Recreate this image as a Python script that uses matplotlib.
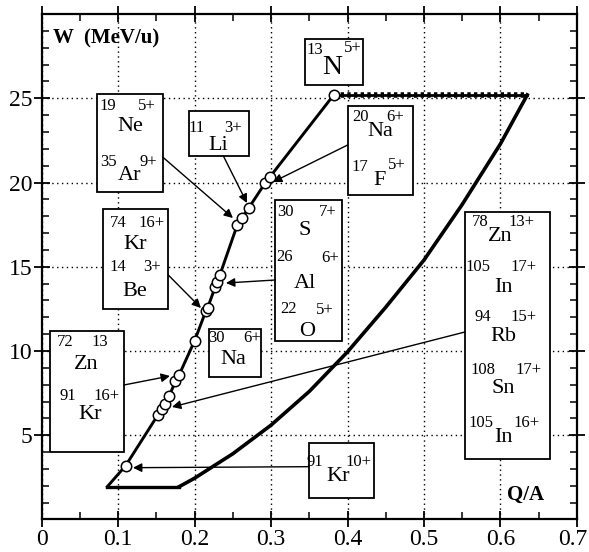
import matplotlib
matplotlib.use("Agg")
import matplotlib.pyplot as plt
from matplotlib.patches import Rectangle
from matplotlib.ticker import MultipleLocator
from matplotlib.transforms import ScaledTranslation

plt.rcParams['font.family'] = ['Liberation Serif', 'DejaVu Serif']

# ---------------- data ----------------
circle_qa = [0.110, 0.152, 0.158, 0.161, 0.167, 0.175, 0.180, 0.200, 0.215, 0.217,
             0.227, 0.229, 0.233, 0.256, 0.262, 0.271, 0.292, 0.298, 0.382]
circle_w = [3.2, 6.2, 6.55, 6.85, 7.35, 8.2, 8.6, 10.6, 12.4, 12.55,
            13.8, 14.1, 14.5, 17.5, 17.9, 18.5, 19.95, 20.3, 25.2]

start_qa = [0.086]
start_w = [1.95]

bottom_qa = [0.086, 0.18]
bottom_w = [1.95, 1.95]

edge_qa = [0.18, 0.19, 0.20, 0.25, 0.30, 0.35, 0.40, 0.45, 0.50, 0.55, 0.60, 0.635]
edge_w = [1.95, 2.2, 2.45, 3.9, 5.6, 7.6, 9.95, 12.6, 15.4, 18.7, 22.3, 25.2]

top_qa = [0.382, 0.635]
top_w = [25.2, 25.2]

x_ticks = [0, 0.1, 0.2, 0.3, 0.4, 0.5, 0.6, 0.7]
x_tick_labels = ['0', '0.1', '0.2', '0.3', '0.4', '0.5', '0.6', '0.7']
y_ticks = [5, 10, 15, 20, 25]
y_tick_labels = ['5', '10', '15', '20', '25']

# ---------------- figure ----------------
fig = plt.figure(figsize=(5.89, 5.52), dpi=100)
ax = fig.add_axes([0.0706, 0.0589, 0.9090, 0.9157])
ax.set_xlim(0, 0.7)
ax.set_ylim(0, 30)


def R(px, py):
    """reference-picture pixel -> data coordinates (for annotation placement)"""
    return ((px - 41.6) / 765.0, (519.5 - py) / 16.85)


ax.set_xticks(x_ticks)
ax.set_xticklabels(x_tick_labels)
ax.set_yticks(y_ticks)
ax.set_yticklabels(y_tick_labels)
ax.xaxis.set_minor_locator(MultipleLocator(0.05))
ax.yaxis.set_minor_locator(MultipleLocator(1))
ax.tick_params(which='major', direction='inout', length=11, width=1.3,
               top=True, right=True, labelsize=17, pad=1)
ax.tick_params(which='minor', direction='in', length=5, width=1.1,
               top=True, right=True)
# last x label sits against the right edge in the reference
last = ax.get_xticklabels()[-1]
last.set_transform(last.get_transform() + ScaledTranslation(-4 / 100, 0, fig.dpi_scale_trans))

for s in ax.spines.values():
    s.set_linewidth(1.6)
ax.grid(True, which='major', linestyle=(0, (1, 2.5)), color='black', lw=1.0, zorder=0)
ax.set_axisbelow(True)

# acceptance contour
ax.plot(start_qa + circle_qa, start_w + circle_w, color='black', lw=2.1, zorder=4,
        solid_joinstyle='round')
ax.plot(bottom_qa, bottom_w, color='black', lw=2.4, zorder=4)
ax.plot(edge_qa, edge_w, color='black', lw=2.6, zorder=4, solid_joinstyle='round')
ax.plot(top_qa, top_w, color='black', lw=2.0, zorder=4)
ax.plot(top_qa, top_w, color='black', lw=4.0, linestyle=(0, (0.6, 0.6)), zorder=4)

# circles
ax.plot(circle_qa, circle_w, linestyle='none', marker='o', ms=7.5,
        mfc='white', mec='black', mew=1.1, zorder=6)

# ---------------- labels in boxes ----------------
S_NUM = 12
S_EL = 16
boxes = [
    ((305, 39, 362.7, 85), [("13", 315, 50, S_NUM), ("5+", 353, 48, S_NUM), ("N", 332.7, 67, 20)]),
    ((97.3, 94, 162.7, 192.3), [("19", 108.3, 106, S_NUM), ("5+", 146.7, 106, S_NUM), ("Ne", 130, 126.7, S_EL),
                                ("35", 108.3, 162.3, S_NUM), ("9+", 148.3, 162.3, S_NUM), ("Ar", 130, 175.7, S_EL)]),
    ((189, 111, 249.3, 155.7), [("11", 196.7, 128.3, S_NUM), ("3+", 233.3, 128.3, S_NUM), ("Li", 218.3, 145.7, S_EL)]),
    ((347.7, 106, 413.3, 195), [("20", 360.7, 116.7, S_NUM), ("6+", 395, 116.7, S_NUM), ("Na", 380, 131.7, S_EL),
                                ("17", 360, 166.7, S_NUM), ("5+", 396.7, 165, S_NUM), ("F", 380, 180, S_EL)]),
    ((102.7, 209.3, 168.3, 309.3), [("74", 118.3, 223.3, S_NUM), ("16+", 151.7, 223.3, S_NUM), ("Kr", 135, 244.3, S_EL),
                                    ("14", 118.3, 266.7, S_NUM), ("3+", 151.7, 266.7, S_NUM), ("Be", 135, 291.7, S_EL)]),
    ((275.3, 200, 342.3, 341), [("30", 285, 211.7, S_NUM), ("7+", 328.3, 211.7, S_NUM), ("S", 305, 230, S_EL),
                                ("26", 285, 256.7, S_NUM), ("6+", 330, 258.3, S_NUM), ("Al", 305, 283.3, S_EL),
                                ("22", 288.3, 309.3, S_NUM), ("5+", 325, 310, S_NUM), ("O", 306.7, 331.7, S_EL)]),
    ((465, 212, 550, 459), [("78", 480, 221.7, S_NUM), ("13+", 521.7, 221.7, S_NUM), ("Zn", 500, 236, S_EL),
                            ("105", 478.3, 266.7, S_NUM), ("17+", 523.3, 266.7, S_NUM), ("In", 503.3, 287, S_EL),
                            ("94", 483.3, 316.7, S_NUM), ("15+", 523.3, 316.7, S_NUM), ("Rb", 503.3, 337, S_EL),
                            ("108", 483.3, 370, S_NUM), ("17+", 528.3, 370, S_NUM), ("Sn", 503.3, 389, S_EL),
                            ("105", 480.7, 423.3, S_NUM), ("16+", 526.7, 423.3, S_NUM), ("In", 503.3, 437.5, S_EL)]),
    ((209.3, 329.3, 260.7, 377.3), [("30", 216, 338.3, S_NUM), ("6+", 251.7, 338.3, S_NUM), ("Na", 233.3, 360, S_EL)]),
    ((50, 331, 124, 451.7), [("72", 65, 341.7, S_NUM), ("13", 100, 341.7, S_NUM), ("Zn", 86.7, 365, S_EL),
                             ("91", 68.3, 396, S_NUM), ("16+", 106.7, 396, S_NUM), ("Kr", 90, 415, S_EL)]),
    ((309, 442.7, 374.3, 498.3), [("91", 315, 461.7, S_NUM), ("10+", 358.3, 461.7, S_NUM), ("Kr", 338.3, 476.7, S_EL)]),
]

for (x0, y0, x1, y1), texts in boxes:
    d0 = R(x0, y1)
    d1 = R(x1, y0)
    ax.add_patch(Rectangle(d0, d1[0] - d0[0], d1[1] - d0[1], facecolor='white',
                           edgecolor='black', lw=1.3, zorder=3, clip_on=False))
    for t, px, py, fs in texts:
        ax.text(*R(px, py), t, fontsize=fs, ha='center', va='center', zorder=5)

# arrows (start at box edge, end near points)
arrows = [
    ((162.7, 157), (233, 218)),
    ((223.3, 155.7), (247, 203)),
    ((347.7, 145), (273, 182)),
    ((168.3, 275), (201, 308)),
    ((275.3, 280), (226, 283)),
    ((124, 385), (170, 376)),
    ((465, 332), (172, 407)),
    ((309, 466.7), (133, 467.7)),
]
for (sx, sy), (ex, ey) in arrows:
    ax.annotate('', xy=R(ex, ey), xytext=R(sx, sy),
                arrowprops=dict(arrowstyle='-|>', color='black', lw=1.0,
                                mutation_scale=13, shrinkA=0, shrinkB=0),
                zorder=5)

ax.text(*R(53, 38), 'W  (MeV/u)', fontsize=15, fontweight='bold', ha='left', va='center')
ax.text(*R(507, 495), 'Q/A', fontsize=15, fontweight='bold', ha='left', va='center')

fig.savefig('out.png', dpi=100)
